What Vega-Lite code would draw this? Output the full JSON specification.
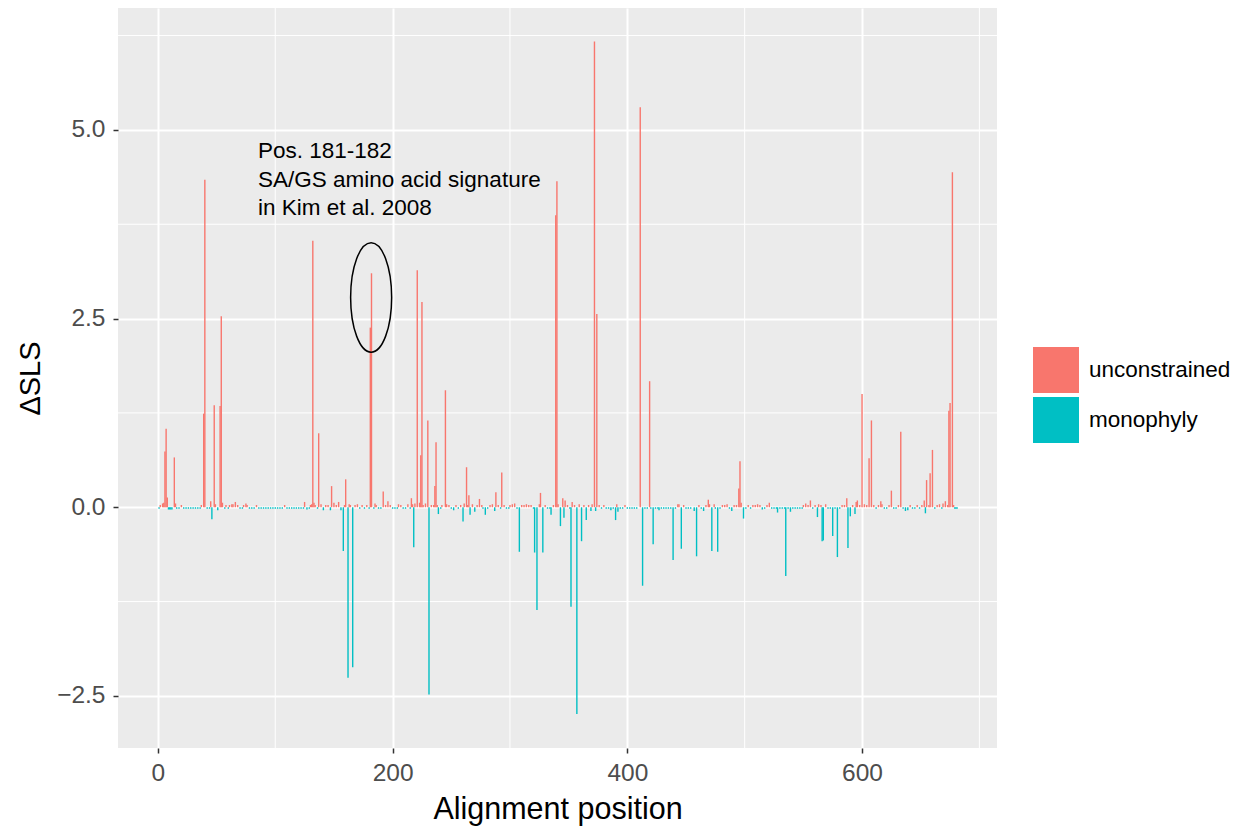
{
  "$schema": "https://vega.github.io/schema/vega-lite/v6.json",
  "width": 879,
  "height": 740,
  "autosize": {"type": "none"},
  "padding": {"left": 118, "top": 8, "right": 253, "bottom": 82},
  "background": "white",
  "config": {
    "font": "Liberation Sans",
    "view": {"fill": "#EBEBEB", "stroke": null},
    "axis": {"domain": false, "grid": true, "gridColor": "white", "gridWidth": 2, "tickColor": "#333333", "tickWidth": 1.5, "tickSize": 5, "labelColor": "#4D4D4D", "labelFontSize": 24.5, "labelPadding": 8, "labelFlush": false, "labelOverlap": false, "titleColor": "black", "titleFontWeight": "normal"},
    "axisX": {"titlePadding": 10, "titleFontSize": 30.5},
    "axisY": {"titlePadding": 11, "titleFontSize": 29}
  },
  "layer": [
    {
      "data": {"values": [{"pos": 100}, {"pos": 300}, {"pos": 500}, {"pos": 700}]},
      "mark": {"type": "rule", "color": "white", "strokeWidth": 1},
      "encoding": {"x": {"field": "pos", "type": "quantitative", "scale": {"domain": [-34, 715], "nice": false, "zero": false, "padding": 0}, "axis": {"title": "Alignment position", "values": [0, 200, 400, 600], "format": "d"}}}
    },
    {
      "data": {"values": [{"dsls": -1.25}, {"dsls": 1.25}, {"dsls": 3.75}, {"dsls": 6.25}]},
      "mark": {"type": "rule", "color": "white", "strokeWidth": 1},
      "encoding": {"y": {"field": "dsls", "type": "quantitative", "scale": {"domain": [-3.19, 6.615], "nice": false, "zero": false, "padding": 0}, "axis": {"title": "ΔSLS", "values": [-2.5, 0, 2.5, 5], "format": ".1f"}}}
    },
    {
      "data": {"values": [
        {"pos":1,"dsls":-0.02,"model":"monophyly"},{"pos":2,"dsls":0.03,"model":"unconstrained"},{"pos":4,"dsls":0.05,"model":"unconstrained"},{"pos":5,"dsls":0.06,"model":"unconstrained"},{"pos":6,"dsls":0.74,"model":"unconstrained"},{"pos":7,"dsls":1.04,"model":"unconstrained"},{"pos":8,"dsls":0.13,"model":"unconstrained"},{"pos":9,"dsls":-0.03,"model":"monophyly"},{"pos":10,"dsls":-0.03,"model":"monophyly"},{"pos":11,"dsls":-0.03,"model":"monophyly"},{"pos":12,"dsls":-0.03,"model":"monophyly"},{"pos":14,"dsls":0.66,"model":"unconstrained"},{"pos":15,"dsls":0.05,"model":"unconstrained"},{"pos":16,"dsls":-0.02,"model":"monophyly"},{"pos":18,"dsls":-0.02,"model":"monophyly"},{"pos":20,"dsls":0.03,"model":"unconstrained"},{"pos":22,"dsls":-0.02,"model":"monophyly"},{"pos":24,"dsls":-0.02,"model":"monophyly"},{"pos":26,"dsls":-0.02,"model":"monophyly"},{"pos":28,"dsls":-0.02,"model":"monophyly"},{"pos":30,"dsls":-0.02,"model":"monophyly"},{"pos":32,"dsls":-0.02,"model":"monophyly"},{"pos":34,"dsls":-0.02,"model":"monophyly"},{"pos":36,"dsls":-0.02,"model":"monophyly"},{"pos":37,"dsls":0.03,"model":"unconstrained"},{"pos":39,"dsls":1.24,"model":"unconstrained"},{"pos":40,"dsls":4.34,"model":"unconstrained"},{"pos":42,"dsls":-0.02,"model":"monophyly"},{"pos":44,"dsls":-0.02,"model":"monophyly"},{"pos":45,"dsls":0.08,"model":"unconstrained"},{"pos":46,"dsls":-0.16,"model":"monophyly"},{"pos":48,"dsls":1.35,"model":"unconstrained"},{"pos":49,"dsls":0.04,"model":"unconstrained"},{"pos":51,"dsls":-0.04,"model":"monophyly"},{"pos":53,"dsls":1.34,"model":"unconstrained"},{"pos":54,"dsls":2.53,"model":"unconstrained"},{"pos":55,"dsls":0.06,"model":"unconstrained"},{"pos":57,"dsls":-0.02,"model":"monophyly"},{"pos":58,"dsls":0.03,"model":"unconstrained"},{"pos":60,"dsls":-0.02,"model":"monophyly"},{"pos":61,"dsls":0.03,"model":"unconstrained"},{"pos":63,"dsls":0.04,"model":"unconstrained"},{"pos":64,"dsls":0.04,"model":"unconstrained"},{"pos":66,"dsls":0.07,"model":"unconstrained"},{"pos":68,"dsls":0.03,"model":"unconstrained"},{"pos":70,"dsls":-0.02,"model":"monophyly"},{"pos":72,"dsls":-0.02,"model":"monophyly"},{"pos":73,"dsls":0.03,"model":"unconstrained"},{"pos":75,"dsls":0.05,"model":"unconstrained"},{"pos":76,"dsls":0.03,"model":"unconstrained"},{"pos":78,"dsls":-0.02,"model":"monophyly"},{"pos":80,"dsls":-0.02,"model":"monophyly"},{"pos":82,"dsls":-0.02,"model":"monophyly"},{"pos":84,"dsls":0.03,"model":"unconstrained"},{"pos":86,"dsls":-0.02,"model":"monophyly"},{"pos":88,"dsls":-0.02,"model":"monophyly"},{"pos":90,"dsls":-0.02,"model":"monophyly"},{"pos":92,"dsls":-0.02,"model":"monophyly"},{"pos":94,"dsls":-0.02,"model":"monophyly"},{"pos":96,"dsls":-0.02,"model":"monophyly"},{"pos":98,"dsls":-0.02,"model":"monophyly"},{"pos":100,"dsls":-0.02,"model":"monophyly"},{"pos":102,"dsls":-0.02,"model":"monophyly"},{"pos":104,"dsls":-0.02,"model":"monophyly"},{"pos":106,"dsls":-0.02,"model":"monophyly"},{"pos":108,"dsls":0.03,"model":"unconstrained"},{"pos":110,"dsls":-0.02,"model":"monophyly"},{"pos":112,"dsls":-0.02,"model":"monophyly"},{"pos":114,"dsls":-0.02,"model":"monophyly"},{"pos":116,"dsls":-0.02,"model":"monophyly"},{"pos":118,"dsls":-0.02,"model":"monophyly"},{"pos":120,"dsls":-0.02,"model":"monophyly"},{"pos":122,"dsls":-0.02,"model":"monophyly"},{"pos":124,"dsls":-0.02,"model":"monophyly"},{"pos":125,"dsls":0.07,"model":"unconstrained"},{"pos":127,"dsls":-0.03,"model":"monophyly"},{"pos":129,"dsls":-0.02,"model":"monophyly"},{"pos":130,"dsls":0.03,"model":"unconstrained"},{"pos":131,"dsls":0.04,"model":"unconstrained"},{"pos":132,"dsls":3.53,"model":"unconstrained"},{"pos":133,"dsls":0.06,"model":"unconstrained"},{"pos":134,"dsls":0.03,"model":"unconstrained"},{"pos":136,"dsls":-0.02,"model":"monophyly"},{"pos":137,"dsls":0.98,"model":"unconstrained"},{"pos":139,"dsls":0.04,"model":"unconstrained"},{"pos":141,"dsls":-0.04,"model":"monophyly"},{"pos":143,"dsls":0.03,"model":"unconstrained"},{"pos":145,"dsls":0.03,"model":"unconstrained"},{"pos":147,"dsls":-0.04,"model":"monophyly"},{"pos":148,"dsls":0.28,"model":"unconstrained"},{"pos":150,"dsls":0.06,"model":"unconstrained"},{"pos":152,"dsls":0.03,"model":"unconstrained"},{"pos":154,"dsls":0.07,"model":"unconstrained"},{"pos":156,"dsls":-0.04,"model":"monophyly"},{"pos":158,"dsls":-0.58,"model":"monophyly"},{"pos":159,"dsls":0.03,"model":"unconstrained"},{"pos":160,"dsls":0.37,"model":"unconstrained"},{"pos":162,"dsls":-2.26,"model":"monophyly"},{"pos":163,"dsls":0.04,"model":"unconstrained"},{"pos":164,"dsls":0.03,"model":"unconstrained"},{"pos":166,"dsls":-2.12,"model":"monophyly"},{"pos":168,"dsls":0.03,"model":"unconstrained"},{"pos":170,"dsls":0.04,"model":"unconstrained"},{"pos":172,"dsls":-0.02,"model":"monophyly"},{"pos":174,"dsls":0.03,"model":"unconstrained"},{"pos":176,"dsls":-0.02,"model":"monophyly"},{"pos":178,"dsls":0.03,"model":"unconstrained"},{"pos":180,"dsls":-0.02,"model":"monophyly"},{"pos":181,"dsls":2.38,"model":"unconstrained"},{"pos":182,"dsls":3.10,"model":"unconstrained"},{"pos":184,"dsls":-0.02,"model":"monophyly"},{"pos":185,"dsls":0.05,"model":"unconstrained"},{"pos":186,"dsls":0.03,"model":"unconstrained"},{"pos":188,"dsls":-0.02,"model":"monophyly"},{"pos":190,"dsls":-0.02,"model":"monophyly"},{"pos":192,"dsls":0.21,"model":"unconstrained"},{"pos":194,"dsls":0.03,"model":"unconstrained"},{"pos":196,"dsls":0.08,"model":"unconstrained"},{"pos":198,"dsls":0.03,"model":"unconstrained"},{"pos":200,"dsls":-0.02,"model":"monophyly"},{"pos":202,"dsls":-0.02,"model":"monophyly"},{"pos":204,"dsls":-0.02,"model":"monophyly"},{"pos":205,"dsls":0.04,"model":"unconstrained"},{"pos":207,"dsls":0.03,"model":"unconstrained"},{"pos":209,"dsls":-0.02,"model":"monophyly"},{"pos":211,"dsls":-0.02,"model":"monophyly"},{"pos":213,"dsls":0.04,"model":"unconstrained"},{"pos":215,"dsls":-0.02,"model":"monophyly"},{"pos":216,"dsls":0.12,"model":"unconstrained"},{"pos":217,"dsls":0.04,"model":"unconstrained"},{"pos":218,"dsls":-0.53,"model":"monophyly"},{"pos":219,"dsls":0.05,"model":"unconstrained"},{"pos":221,"dsls":3.14,"model":"unconstrained"},{"pos":223,"dsls":0.06,"model":"unconstrained"},{"pos":224,"dsls":0.69,"model":"unconstrained"},{"pos":225,"dsls":2.72,"model":"unconstrained"},{"pos":226,"dsls":0.03,"model":"unconstrained"},{"pos":228,"dsls":0.05,"model":"unconstrained"},{"pos":230,"dsls":1.15,"model":"unconstrained"},{"pos":231,"dsls":-2.48,"model":"monophyly"},{"pos":233,"dsls":0.03,"model":"unconstrained"},{"pos":235,"dsls":0.03,"model":"unconstrained"},{"pos":236,"dsls":0.28,"model":"unconstrained"},{"pos":237,"dsls":0.86,"model":"unconstrained"},{"pos":238,"dsls":0.03,"model":"unconstrained"},{"pos":239,"dsls":-0.09,"model":"monophyly"},{"pos":241,"dsls":-0.02,"model":"monophyly"},{"pos":242,"dsls":0.03,"model":"unconstrained"},{"pos":245,"dsls":1.55,"model":"unconstrained"},{"pos":246,"dsls":0.04,"model":"unconstrained"},{"pos":248,"dsls":0.03,"model":"unconstrained"},{"pos":250,"dsls":-0.02,"model":"monophyly"},{"pos":252,"dsls":-0.04,"model":"monophyly"},{"pos":254,"dsls":0.03,"model":"unconstrained"},{"pos":256,"dsls":-0.02,"model":"monophyly"},{"pos":258,"dsls":0.03,"model":"unconstrained"},{"pos":260,"dsls":-0.19,"model":"monophyly"},{"pos":261,"dsls":0.05,"model":"unconstrained"},{"pos":263,"dsls":0.53,"model":"unconstrained"},{"pos":264,"dsls":0.03,"model":"unconstrained"},{"pos":265,"dsls":0.16,"model":"unconstrained"},{"pos":266,"dsls":-0.10,"model":"monophyly"},{"pos":268,"dsls":0.04,"model":"unconstrained"},{"pos":270,"dsls":-0.06,"model":"monophyly"},{"pos":272,"dsls":0.03,"model":"unconstrained"},{"pos":274,"dsls":0.11,"model":"unconstrained"},{"pos":276,"dsls":0.03,"model":"unconstrained"},{"pos":277,"dsls":-0.02,"model":"monophyly"},{"pos":279,"dsls":-0.10,"model":"monophyly"},{"pos":281,"dsls":-0.02,"model":"monophyly"},{"pos":283,"dsls":0.03,"model":"unconstrained"},{"pos":285,"dsls":0.04,"model":"unconstrained"},{"pos":287,"dsls":-0.05,"model":"monophyly"},{"pos":288,"dsls":0.20,"model":"unconstrained"},{"pos":290,"dsls":0.03,"model":"unconstrained"},{"pos":292,"dsls":-0.02,"model":"monophyly"},{"pos":293,"dsls":0.46,"model":"unconstrained"},{"pos":295,"dsls":0.03,"model":"unconstrained"},{"pos":297,"dsls":-0.02,"model":"monophyly"},{"pos":299,"dsls":-0.02,"model":"monophyly"},{"pos":300,"dsls":0.03,"model":"unconstrained"},{"pos":302,"dsls":0.04,"model":"unconstrained"},{"pos":304,"dsls":0.05,"model":"unconstrained"},{"pos":306,"dsls":-0.02,"model":"monophyly"},{"pos":308,"dsls":-0.59,"model":"monophyly"},{"pos":310,"dsls":0.03,"model":"unconstrained"},{"pos":312,"dsls":0.03,"model":"unconstrained"},{"pos":314,"dsls":0.04,"model":"unconstrained"},{"pos":316,"dsls":0.03,"model":"unconstrained"},{"pos":318,"dsls":0.03,"model":"unconstrained"},{"pos":320,"dsls":-0.02,"model":"monophyly"},{"pos":321,"dsls":-0.60,"model":"monophyly"},{"pos":323,"dsls":-1.36,"model":"monophyly"},{"pos":325,"dsls":0.04,"model":"unconstrained"},{"pos":326,"dsls":0.19,"model":"unconstrained"},{"pos":328,"dsls":-0.60,"model":"monophyly"},{"pos":330,"dsls":0.03,"model":"unconstrained"},{"pos":332,"dsls":-0.02,"model":"monophyly"},{"pos":334,"dsls":-0.02,"model":"monophyly"},{"pos":335,"dsls":-0.10,"model":"monophyly"},{"pos":337,"dsls":0.03,"model":"unconstrained"},{"pos":339,"dsls":3.87,"model":"unconstrained"},{"pos":340,"dsls":4.32,"model":"unconstrained"},{"pos":341,"dsls":0.04,"model":"unconstrained"},{"pos":343,"dsls":-0.25,"model":"monophyly"},{"pos":345,"dsls":0.12,"model":"unconstrained"},{"pos":346,"dsls":-0.14,"model":"monophyly"},{"pos":347,"dsls":0.09,"model":"unconstrained"},{"pos":349,"dsls":0.03,"model":"unconstrained"},{"pos":351,"dsls":-0.02,"model":"monophyly"},{"pos":352,"dsls":-1.32,"model":"monophyly"},{"pos":353,"dsls":0.07,"model":"unconstrained"},{"pos":355,"dsls":0.03,"model":"unconstrained"},{"pos":357,"dsls":-2.74,"model":"monophyly"},{"pos":359,"dsls":0.04,"model":"unconstrained"},{"pos":361,"dsls":-0.45,"model":"monophyly"},{"pos":363,"dsls":0.03,"model":"unconstrained"},{"pos":365,"dsls":-0.17,"model":"monophyly"},{"pos":367,"dsls":0.03,"model":"unconstrained"},{"pos":369,"dsls":-0.05,"model":"monophyly"},{"pos":370,"dsls":0.04,"model":"unconstrained"},{"pos":372,"dsls":6.17,"model":"unconstrained"},{"pos":373,"dsls":-0.05,"model":"monophyly"},{"pos":374,"dsls":2.56,"model":"unconstrained"},{"pos":376,"dsls":0.03,"model":"unconstrained"},{"pos":378,"dsls":-0.02,"model":"monophyly"},{"pos":380,"dsls":0.03,"model":"unconstrained"},{"pos":382,"dsls":-0.02,"model":"monophyly"},{"pos":384,"dsls":-0.02,"model":"monophyly"},{"pos":386,"dsls":-0.04,"model":"monophyly"},{"pos":388,"dsls":-0.02,"model":"monophyly"},{"pos":390,"dsls":-0.17,"model":"monophyly"},{"pos":391,"dsls":0.04,"model":"unconstrained"},{"pos":392,"dsls":-0.06,"model":"monophyly"},{"pos":394,"dsls":-0.02,"model":"monophyly"},{"pos":396,"dsls":-0.02,"model":"monophyly"},{"pos":398,"dsls":0.03,"model":"unconstrained"},{"pos":400,"dsls":-0.02,"model":"monophyly"},{"pos":402,"dsls":-0.02,"model":"monophyly"},{"pos":404,"dsls":-0.02,"model":"monophyly"},{"pos":406,"dsls":-0.02,"model":"monophyly"},{"pos":408,"dsls":-0.02,"model":"monophyly"},{"pos":411,"dsls":5.30,"model":"unconstrained"},{"pos":413,"dsls":-1.04,"model":"monophyly"},{"pos":415,"dsls":-0.02,"model":"monophyly"},{"pos":417,"dsls":-0.02,"model":"monophyly"},{"pos":419,"dsls":1.67,"model":"unconstrained"},{"pos":420,"dsls":-0.02,"model":"monophyly"},{"pos":422,"dsls":-0.49,"model":"monophyly"},{"pos":424,"dsls":-0.02,"model":"monophyly"},{"pos":426,"dsls":-0.02,"model":"monophyly"},{"pos":427,"dsls":-0.04,"model":"monophyly"},{"pos":429,"dsls":-0.02,"model":"monophyly"},{"pos":431,"dsls":-0.02,"model":"monophyly"},{"pos":433,"dsls":-0.02,"model":"monophyly"},{"pos":435,"dsls":-0.02,"model":"monophyly"},{"pos":437,"dsls":-0.02,"model":"monophyly"},{"pos":439,"dsls":-0.70,"model":"monophyly"},{"pos":441,"dsls":-0.02,"model":"monophyly"},{"pos":443,"dsls":0.04,"model":"unconstrained"},{"pos":444,"dsls":0.04,"model":"unconstrained"},{"pos":446,"dsls":-0.55,"model":"monophyly"},{"pos":448,"dsls":0.03,"model":"unconstrained"},{"pos":450,"dsls":-0.02,"model":"monophyly"},{"pos":452,"dsls":-0.02,"model":"monophyly"},{"pos":454,"dsls":-0.02,"model":"monophyly"},{"pos":457,"dsls":-0.05,"model":"monophyly"},{"pos":459,"dsls":-0.65,"model":"monophyly"},{"pos":461,"dsls":0.03,"model":"unconstrained"},{"pos":463,"dsls":-0.02,"model":"monophyly"},{"pos":465,"dsls":-0.05,"model":"monophyly"},{"pos":467,"dsls":0.03,"model":"unconstrained"},{"pos":469,"dsls":0.10,"model":"unconstrained"},{"pos":470,"dsls":0.04,"model":"unconstrained"},{"pos":472,"dsls":-0.58,"model":"monophyly"},{"pos":474,"dsls":0.04,"model":"unconstrained"},{"pos":475,"dsls":-0.02,"model":"monophyly"},{"pos":477,"dsls":-0.59,"model":"monophyly"},{"pos":479,"dsls":-0.02,"model":"monophyly"},{"pos":481,"dsls":0.03,"model":"unconstrained"},{"pos":483,"dsls":0.03,"model":"unconstrained"},{"pos":485,"dsls":0.04,"model":"unconstrained"},{"pos":487,"dsls":-0.02,"model":"monophyly"},{"pos":489,"dsls":-0.05,"model":"monophyly"},{"pos":491,"dsls":0.03,"model":"unconstrained"},{"pos":493,"dsls":0.03,"model":"unconstrained"},{"pos":495,"dsls":0.25,"model":"unconstrained"},{"pos":496,"dsls":0.61,"model":"unconstrained"},{"pos":497,"dsls":0.06,"model":"unconstrained"},{"pos":499,"dsls":-0.15,"model":"monophyly"},{"pos":501,"dsls":-0.02,"model":"monophyly"},{"pos":503,"dsls":0.03,"model":"unconstrained"},{"pos":505,"dsls":-0.02,"model":"monophyly"},{"pos":507,"dsls":0.03,"model":"unconstrained"},{"pos":509,"dsls":0.03,"model":"unconstrained"},{"pos":511,"dsls":0.04,"model":"unconstrained"},{"pos":513,"dsls":0.03,"model":"unconstrained"},{"pos":515,"dsls":-0.03,"model":"monophyly"},{"pos":517,"dsls":-0.02,"model":"monophyly"},{"pos":519,"dsls":0.03,"model":"unconstrained"},{"pos":521,"dsls":0.06,"model":"unconstrained"},{"pos":523,"dsls":-0.02,"model":"monophyly"},{"pos":525,"dsls":-0.02,"model":"monophyly"},{"pos":527,"dsls":-0.02,"model":"monophyly"},{"pos":528,"dsls":-0.07,"model":"monophyly"},{"pos":530,"dsls":-0.02,"model":"monophyly"},{"pos":532,"dsls":-0.02,"model":"monophyly"},{"pos":534,"dsls":-0.02,"model":"monophyly"},{"pos":535,"dsls":-0.91,"model":"monophyly"},{"pos":537,"dsls":-0.02,"model":"monophyly"},{"pos":539,"dsls":-0.06,"model":"monophyly"},{"pos":541,"dsls":-0.02,"model":"monophyly"},{"pos":543,"dsls":-0.02,"model":"monophyly"},{"pos":545,"dsls":-0.02,"model":"monophyly"},{"pos":547,"dsls":-0.02,"model":"monophyly"},{"pos":549,"dsls":-0.02,"model":"monophyly"},{"pos":550,"dsls":0.03,"model":"unconstrained"},{"pos":552,"dsls":0.05,"model":"unconstrained"},{"pos":554,"dsls":0.03,"model":"unconstrained"},{"pos":556,"dsls":0.09,"model":"unconstrained"},{"pos":558,"dsls":-0.02,"model":"monophyly"},{"pos":560,"dsls":0.03,"model":"unconstrained"},{"pos":562,"dsls":-0.13,"model":"monophyly"},{"pos":563,"dsls":0.04,"model":"unconstrained"},{"pos":565,"dsls":0.03,"model":"unconstrained"},{"pos":566,"dsls":-0.45,"model":"monophyly"},{"pos":567,"dsls":-0.44,"model":"monophyly"},{"pos":569,"dsls":0.04,"model":"unconstrained"},{"pos":571,"dsls":-0.02,"model":"monophyly"},{"pos":573,"dsls":-0.02,"model":"monophyly"},{"pos":575,"dsls":-0.38,"model":"monophyly"},{"pos":577,"dsls":-0.02,"model":"monophyly"},{"pos":579,"dsls":-0.66,"model":"monophyly"},{"pos":581,"dsls":-0.02,"model":"monophyly"},{"pos":583,"dsls":0.03,"model":"unconstrained"},{"pos":585,"dsls":0.03,"model":"unconstrained"},{"pos":587,"dsls":0.12,"model":"unconstrained"},{"pos":588,"dsls":-0.54,"model":"monophyly"},{"pos":590,"dsls":-0.12,"model":"monophyly"},{"pos":592,"dsls":0.03,"model":"unconstrained"},{"pos":594,"dsls":-0.09,"model":"monophyly"},{"pos":595,"dsls":0.07,"model":"unconstrained"},{"pos":596,"dsls":0.09,"model":"unconstrained"},{"pos":598,"dsls":0.03,"model":"unconstrained"},{"pos":600,"dsls":1.50,"model":"unconstrained"},{"pos":602,"dsls":0.04,"model":"unconstrained"},{"pos":604,"dsls":0.03,"model":"unconstrained"},{"pos":606,"dsls":0.65,"model":"unconstrained"},{"pos":608,"dsls":1.15,"model":"unconstrained"},{"pos":610,"dsls":0.03,"model":"unconstrained"},{"pos":612,"dsls":-0.02,"model":"monophyly"},{"pos":614,"dsls":0.03,"model":"unconstrained"},{"pos":616,"dsls":0.08,"model":"unconstrained"},{"pos":617,"dsls":0.04,"model":"unconstrained"},{"pos":619,"dsls":-0.02,"model":"monophyly"},{"pos":621,"dsls":-0.02,"model":"monophyly"},{"pos":623,"dsls":0.03,"model":"unconstrained"},{"pos":625,"dsls":0.22,"model":"unconstrained"},{"pos":627,"dsls":-0.02,"model":"monophyly"},{"pos":629,"dsls":-0.02,"model":"monophyly"},{"pos":631,"dsls":0.03,"model":"unconstrained"},{"pos":633,"dsls":1.00,"model":"unconstrained"},{"pos":635,"dsls":-0.02,"model":"monophyly"},{"pos":637,"dsls":-0.05,"model":"monophyly"},{"pos":639,"dsls":-0.04,"model":"monophyly"},{"pos":641,"dsls":0.03,"model":"unconstrained"},{"pos":643,"dsls":-0.02,"model":"monophyly"},{"pos":645,"dsls":-0.02,"model":"monophyly"},{"pos":647,"dsls":0.03,"model":"unconstrained"},{"pos":649,"dsls":-0.02,"model":"monophyly"},{"pos":651,"dsls":0.03,"model":"unconstrained"},{"pos":653,"dsls":0.09,"model":"unconstrained"},{"pos":654,"dsls":-0.08,"model":"monophyly"},{"pos":655,"dsls":0.36,"model":"unconstrained"},{"pos":657,"dsls":0.03,"model":"unconstrained"},{"pos":658,"dsls":0.45,"model":"unconstrained"},{"pos":660,"dsls":0.76,"model":"unconstrained"},{"pos":662,"dsls":-0.02,"model":"monophyly"},{"pos":664,"dsls":0.03,"model":"unconstrained"},{"pos":666,"dsls":0.04,"model":"unconstrained"},{"pos":668,"dsls":-0.02,"model":"monophyly"},{"pos":669,"dsls":0.05,"model":"unconstrained"},{"pos":671,"dsls":0.08,"model":"unconstrained"},{"pos":673,"dsls":0.03,"model":"unconstrained"},{"pos":674,"dsls":1.28,"model":"unconstrained"},{"pos":675,"dsls":1.38,"model":"unconstrained"},{"pos":677,"dsls":4.44,"model":"unconstrained"},{"pos":678,"dsls":0.03,"model":"unconstrained"},{"pos":679,"dsls":-0.02,"model":"monophyly"},{"pos":680,"dsls":-0.02,"model":"monophyly"},{"pos":681,"dsls":-0.02,"model":"monophyly"}
      ]},
      "mark": {"type": "bar", "orient": "vertical", "size": 1.4},
      "encoding": {
        "x": {"field": "pos", "type": "quantitative", "scale": {"domain": [-34, 715], "nice": false, "zero": false, "padding": 0}, "axis": {"title": "Alignment position", "values": [0, 200, 400, 600], "format": "d"}},
        "y": {"field": "dsls", "type": "quantitative", "stack": null, "scale": {"domain": [-3.19, 6.615], "nice": false, "zero": false, "padding": 0}, "axis": {"title": "ΔSLS", "values": [-2.5, 0, 2.5, 5], "format": ".1f"}},
        "color": {"field": "model", "type": "nominal", "scale": {"domain": ["unconstrained", "monophyly"], "range": ["#F8766D", "#00BFC4"]}, "legend": {"title": null, "orient": "none", "legendX": 915, "legendY": 339, "symbolType": "square", "symbolSize": 2116, "symbolStrokeWidth": 0, "symbolOpacity": 1, "labelFontSize": 22.5, "labelColor": "black", "labelOffset": 10, "rowPadding": 4}}
      }
    },
    {
      "data": {"values": [{"pos": 85.3, "dsls": 4.865, "label": "Pos. 181-182\nSA/GS amino acid signature\nin Kim et al. 2008"}]},
      "mark": {"type": "text", "align": "left", "baseline": "top", "fontSize": 22.5, "lineHeight": 28.5, "lineBreak": "\n", "color": "black"},
      "encoding": {
        "x": {"field": "pos", "type": "quantitative", "scale": {"domain": [-34, 715], "nice": false, "zero": false, "padding": 0}, "axis": {"title": "Alignment position", "values": [0, 200, 400, 600], "format": "d"}},
        "y": {"field": "dsls", "type": "quantitative", "scale": {"domain": [-3.19, 6.615], "nice": false, "zero": false, "padding": 0}, "axis": {"title": "ΔSLS", "values": [-2.5, 0, 2.5, 5], "format": ".1f"}},
        "text": {"field": "label", "type": "nominal"}
      }
    },
    {
      "data": {"values": [{"pos": 181.7, "dsls": 2.78}]},
      "mark": {"type": "point", "shape": "M 0 -1 A 0.375 1 0 1 1 0 1 A 0.375 1 0 1 1 0 -1 Z", "size": 11968, "filled": false, "color": "black", "strokeWidth": 1.5, "opacity": 1},
      "encoding": {
        "x": {"field": "pos", "type": "quantitative", "scale": {"domain": [-34, 715], "nice": false, "zero": false, "padding": 0}, "axis": {"title": "Alignment position", "values": [0, 200, 400, 600], "format": "d"}},
        "y": {"field": "dsls", "type": "quantitative", "scale": {"domain": [-3.19, 6.615], "nice": false, "zero": false, "padding": 0}, "axis": {"title": "ΔSLS", "values": [-2.5, 0, 2.5, 5], "format": ".1f"}}
      }
    }
  ]
}
